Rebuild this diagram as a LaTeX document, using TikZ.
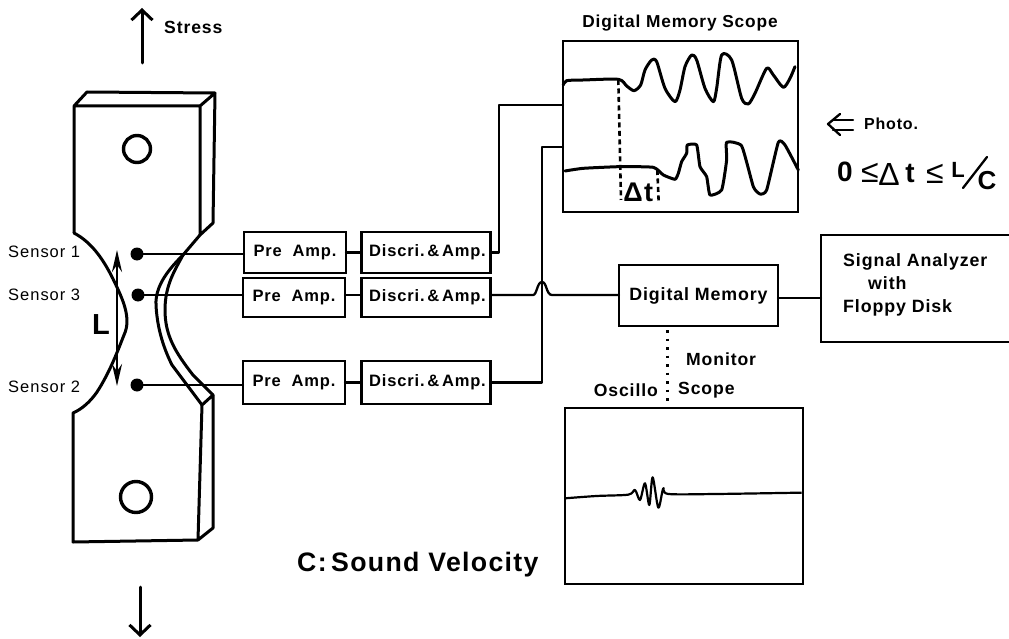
\documentclass[tikz,border=0pt]{standalone}
\usepackage{fontspec}
\usetikzlibrary{arrows.meta}
\newfontfamily\labb[LetterSpace=5]{Liberation Sans}
\newfontfamily\labr[LetterSpace=6]{Liberation Sans}
\newcommand{\fs}[1]{\fontsize{#1}{#1}\selectfont}
\tikzset{
  ln/.style={line width=2.3pt,line join=round,line cap=round},
  thick line/.style={line width=3pt,line join=round,line cap=round},
  box/.style={draw,line width=2.6pt,inner sep=0pt,outer sep=0pt,font=\labb\bfseries\fs{16.5}},
  pre/.style={box,minimum width=102pt,minimum height=41pt},
  dis/.style={box,minimum width=129pt,minimum height=41pt},
  screen/.style={draw,line width=2.6pt,inner sep=0pt,outer sep=0pt},
  lab/.style={inner sep=0pt,font=\labb\bfseries\fs{17.6}},
  sen/.style={inner sep=0pt,font=\labr\fs{16.5}},
  big/.style={inner sep=0pt,font=\labb\bfseries\fs{28}},
  rel/.style={inner sep=0pt,font=\labb\fs{32}},
  dot/.style={circle,fill=black,inner sep=0pt,minimum size=13pt,outer sep=0pt},
  hole/.style={circle,draw,line width=3.4pt,inner sep=0pt,outer sep=0pt},
  barb/.style={line width=3pt,line cap=round,-{Straight Barb[length=10pt,width=21pt,line width=3pt]}},
  wave/.style={line width=3pt,line join=round,line cap=round},
}
\begin{document}
\begin{tikzpicture}[x=1pt,y=-1pt]
\useasboundingbox (0,0) rectangle (1009,639);
\fill[white] (0,0) rectangle (1009,639);

% stress arrows
\coordinate (su0) at (142,63); \coordinate (su1) at (142,8);
\coordinate (sd0) at (140,587); \coordinate (sd1) at (140,637);
\draw[barb] (su0) -- (su1);
\draw[barb] (sd0) -- (sd1);
\node[lab,anchor=west] (tstress) at (164,27) {Stress};

% specimen
\draw[thick line] (74,233) -- (74,106) -- (200,106) -- (200,235)
  (74,106) -- (87,92) -- (215,93) -- (200,106)
  (215,93) -- (213,223) -- (200,235);
\draw[thick line] (74,233) .. controls (93,243) and (105,262) .. (115,283)
  .. controls (122,298) and (132,318) .. (124,335)
  .. controls (118,350) and (110,372) .. (97,392)
  .. controls (90,402) and (82,409) .. (73,413)
  -- (73,542) -- (198,540) -- (202,405) -- (213,395) -- (213,528) -- (198,540);
\draw[thick line] (200,235) -- (183,255)
  .. controls (170,268) and (155,285) .. (156,305)
  .. controls (157,325) and (162,345) .. (172,365)
  -- (202,405);
\draw[thick line] (183,255) .. controls (175,270) and (165,285) .. (165,310)
  .. controls (165,335) and (175,352) .. (193,375) -- (213,395);
\node[hole,minimum size=27pt] (h1) at (137,149) {};
\node[hole,minimum size=31pt] (h2) at (136,497) {};
\coordinate (la) at (117,250); \coordinate (lb) at (117,386);
\draw[line width=2.6pt,{Stealth[length=22pt,width=10pt]}-{Stealth[length=22pt,width=10pt]}] (la) -- (lb);
\node[inner sep=0pt,font=\labb\bfseries\fs{29}] (tl) at (101,325) {L};

% sensors
\node[dot] (s1) at (137,254) {};
\node[dot] (s3) at (138,295) {};
\node[dot] (s2) at (137,385) {};
\node[sen,anchor=west] (ts1) at (8,252) {Sensor 1};
\node[sen,anchor=west] (ts3) at (8,295) {Sensor 3};
\node[sen,anchor=west] (ts2) at (8,387) {Sensor 2};

% amplifiers
\node[pre] (p1) at (295,252.5) {Pre\ \ Amp.};
\node[pre,minimum height=39pt] (p3) at (294,297.5) {Pre\ \ Amp.};
\node[pre,minimum height=43pt] (p2) at (294,382.5) {Pre\ \ Amp.};
\node[dis] (d1) at (426,252.5) {\hspace*{3pt}Discri.\,\&\,Amp.};
\node[dis,minimum height=39pt] (d3) at (426,297.5) {\hspace*{3pt}Discri.\,\&\,Amp.};
\node[dis,minimum height=43pt] (d2) at (426,382.5) {\hspace*{3pt}Discri.\,\&\,Amp.};
\draw[ln] (s1) -- (s1 -| p1.west);
\draw[ln] (s3) -- (s3 -| p3.west);
\draw[ln] (s2) -- (s2 -| p2.west);
\draw[ln] (p1) -- (d1);
\draw[ln] (p3.east |- s3) -- (d3.west |- s3);
\draw[ln] (p2) -- (d2);

% digital memory scope
\node[screen,minimum width=235pt,minimum height=171pt] (ds) at (680.5,126.5) {};
\node[inner sep=0pt,font=\labb\bfseries\fs{17.3}] (tds) at (680,23) {Digital Memory Scope};
\coordinate (in1) at (ds.west |- 0,105);
\coordinate (in2) at (ds.west |- 0,147);
\coordinate (j1) at (499,105);
\coordinate (j2) at (542,147);
\draw[ln] (d1.east) -| (j1) -- (in1);
\draw[ln] (d2.east) -| (j2) -- (in2);
\begin{scope}[shift={(550,10)},x=0.3333pt,y=-0.3333pt]
\draw[wave] plot[smooth,tension=0.45] coordinates {(40,225) (50,212) (100,210) (205,208) (230,228) (252,242) (272,225) (285,180) (305,150) (320,155) (345,235) (375,275) (390,240) (405,170) (425,135) (440,150) (465,235) (490,275) (500,235) (515,135) (545,150) (575,265) (595,282) (615,250) (650,175) (670,195) (700,232) (720,205) (735,170)};
\draw[wave] plot[smooth,tension=0.3] coordinates {(45,483) (100,475) (210,470) (310,472) (340,495) (375,508) (385,490) (395,455) (410,430) (412,405) (440,405) (450,470) (470,500) (480,555) (515,540) (530,450) (530,397) (575,408) (610,530) (630,552) (650,540) (685,397) (705,405) (745,480)};
\draw[line width=2.6pt,dash pattern=on 5pt off 3.5pt] (205,210) -- (213,570);
\draw[line width=2.6pt,dash pattern=on 5pt off 3.5pt] (322,480) -- (326,575);
\node[inner sep=0pt,font=\labb\bfseries\fs{27}] (tdt) at (265,548) {Δt};
\end{scope}

% photo and formula
\coordinate (ph0) at (853,120); \coordinate (ph1) at (853,130);
\coordinate (pht) at (828,124);
\draw[ln] (840,114) -- (pht) -- (840,135);
\draw[ln] (ph0) -- (833,120) (ph1) -- (833,130);
\node[inner sep=0pt,anchor=west,font=\labb\bfseries\fs{16}] (tph) at (864,124) {Photo.};
\node[big] (f0) at (845,172) {0};
\node[rel] (f1) at (870,173) {≤};
\node[rel] (f2) at (889,174) {Δ};
\node[big] (f3) at (910,173) {t};
\node[rel] (f4) at (935,174) {≤};
\node[inner sep=0pt,font=\labb\bfseries\fs{22}] (f5) at (958,170) {L};
\coordinate (sl0) at (963,188); \coordinate (sl1) at (987,157);
\draw[ln] (sl0) -- (sl1);
\node[inner sep=0pt,font=\labb\bfseries\fs{26}] (f6) at (987,181) {C};

% digital memory and analyzer
\node[box,font=\labb\bfseries\fs{17.8},minimum width=159pt,minimum height=61pt] (dm) at (698.5,295.5) {Digital Memory};
\coordinate (b1) at (533,295); \coordinate (b2) at (552,295); \coordinate (bt) at (542,282);
\draw[ln] (d3.east |- b1) -- (b1) .. controls (537,295) and (537,282) .. (bt)
  .. controls (547,282) and (546,295) .. (b2) -- (b2 -| dm.west);
\coordinate (sa1) at (1009,235); \coordinate (sa2) at (821,235);
\coordinate (sa3) at (821,342); \coordinate (sa4) at (1009,342);
\draw[line width=2.6pt,line join=miter] (sa1) -- (sa2) -- (sa3) -- (sa4);
\node[inner sep=0pt,anchor=west,align=left,font=\labb\bfseries\fs{17.8}] (tsa) at (843,285)
  {Signal Analyzer\\[5pt]\hspace*{25pt}with\\[5pt]Floppy Disk};
\draw[ln] (dm.east |- 0,298) -- (sa3 |- 0,298);

% oscilloscope
\node[screen,minimum width=238pt,minimum height=176pt] (os) at (684,496) {};
\coordinate (dm0) at (667,330);
\draw[line width=3pt,dash pattern=on 2.5pt off 6pt] (dm0) -- (667,403);
\node[lab,anchor=west] (tmon) at (686,359) {Monitor};
\node[lab,anchor=east] (tosc) at (658,390) {Oscillo};
\node[lab,anchor=west] (tsc) at (678,390) {Scope};
\begin{scope}[shift={(530,340)},x=0.3333pt,y=-0.3333pt]
\draw[line width=2.2pt,line join=round] plot[smooth,tension=0.5] coordinates {(105,475) (200,468) (295,464) (315,450) (330,480) (345,430) (358,495) (368,412) (385,503) (400,445) (415,462) (560,462) (815,458)};
\end{scope}
\node[inner sep=0pt,anchor=west,font=\labb\bfseries\fs{26.7}] (tc) at (297,565) {C:\,Sound Velocity};
\end{tikzpicture}
\end{document}
